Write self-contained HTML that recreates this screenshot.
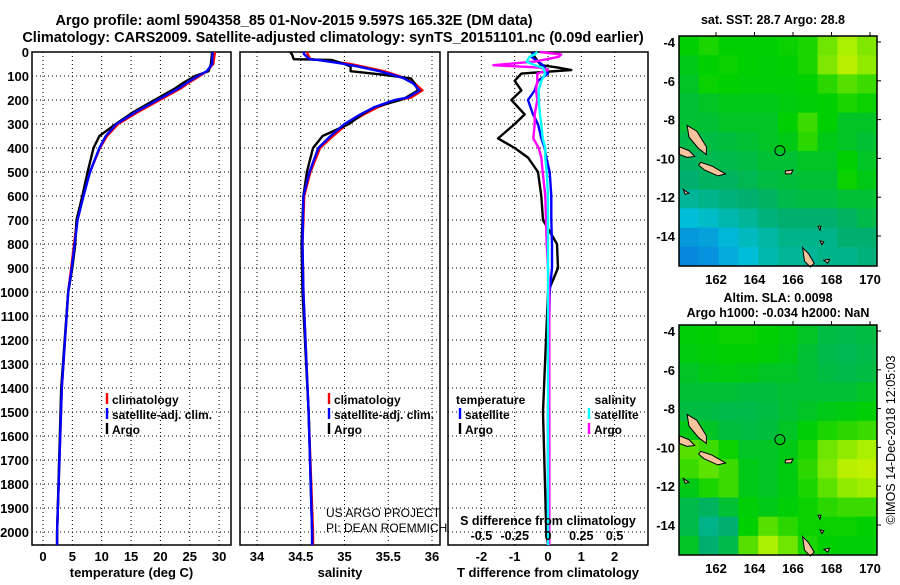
<!DOCTYPE html>
<html><head><meta charset="utf-8"><style>
body{margin:0;background:#fff}
svg text{font-family:"Liberation Sans",sans-serif}
.b{font-weight:bold}
</style></head><body>
<svg id="c" width="900" height="580" xmlns="http://www.w3.org/2000/svg">
<text x="294" y="25" text-anchor="middle" class="b" font-size="14.5">Argo profile: aoml 5904358_85 01-Nov-2015 9.597S 165.32E (DM data)</text>
<text x="333" y="42" text-anchor="middle" class="b" font-size="14.5">Climatology: CARS2009. Satellite-adjusted climatology: synTS_20151101.nc (0.09d earlier)</text>
<g id="g"></g>
</svg>
<script>
// ---- profile data ----
const tDepth=[0,50,80,100,130,150,200,250,300,350,400,500,600,700,800,900,1000,1400,2000,2054];
const tClim=[29.3,29.0,27.9,26.7,24.7,23.6,19.9,16.2,12.8,10.9,9.7,8.0,6.8,5.8,5.3,4.8,4.3,3.2,2.4,2.4];
const tSat=[28.9,28.8,27.9,26.4,24.4,23.2,19.5,15.8,12.5,10.7,9.6,8.0,6.9,5.9,5.4,4.9,4.3,3.2,2.4,2.4];
const tArgo=[28.8,28.6,28.2,25.9,23.8,22.6,19.0,15.4,12.4,9.6,8.6,7.6,6.7,5.7,5.5,5.0,4.3,3.1,2.4,2.4];
const sDepth=[0,10,30,33,50,60,80,95,110,130,160,190,200,230,260,300,350,400,500,600,800,1000,1500,2000,2054];
const sClim=[34.57,34.58,34.61,34.7,35.07,35.2,35.45,35.58,35.7,35.8,35.89,35.76,35.6,35.38,35.22,35.03,34.87,34.72,34.61,34.54,34.52,34.53,34.59,34.64,34.64];
const sSat=[34.53,34.54,34.6,34.7,35.0,35.15,35.4,35.55,35.68,35.78,35.86,35.72,35.57,35.34,35.18,35.0,34.84,34.7,34.6,34.53,34.52,34.53,34.59,34.63,34.63];
const sArgo=[34.38,34.4,34.42,34.85,35.0,35.07,35.07,35.45,35.76,35.8,35.84,35.7,35.64,35.34,35.2,35.05,34.75,34.64,34.57,34.53,34.51,34.52,34.59,34.63,34.63];
const dDepth=[0,10,20,40,55,65,75,90,120,160,200,260,300,360,400,440,500,600,700,800,900,1000,1500,2000,2054];
const dTsat=[-0.45,-0.45,-0.5,-0.3,-0.15,-0.1,-0.05,0.0,-0.3,-0.4,-0.6,-0.45,-0.3,-0.2,-0.1,-0.05,0.05,0.1,0.1,0.12,0.12,0.05,0.0,0.0,0.0];
const dTargo=[-0.5,-0.45,-0.4,-0.3,-0.2,0.3,0.7,-0.8,-1.0,-0.8,-1.1,-0.7,-1.0,-1.5,-1.0,-0.6,-0.3,-0.2,-0.15,0.27,0.3,0.0,-0.15,-0.05,0.0];
const dSsat=[-0.08,-0.1,-0.14,-0.16,-0.1,-0.04,-0.03,-0.02,-0.05,-0.07,-0.07,-0.06,-0.05,-0.04,-0.02,-0.02,-0.01,0,0,0,0,0,0,0,0];
const dSargo=[-0.06,0.1,0.08,-0.1,-0.41,-0.06,0,-0.08,-0.08,-0.09,-0.08,-0.1,-0.1,-0.11,-0.07,-0.05,-0.04,-0.02,-0.015,-0.01,0,0.01,0.01,0.01,0.01];
const tTicks=[0,5,10,15,20,25,30];
const sTicks=[34,34.5,35,35.5,36];
const dTicks=[-2,-1,0,1,2];
const dsTicks=[-0.5,-0.25,0,0.25,0.5];
const dsLabels=["-0.5","-0.25","0","0.25","0.5"];
const depthTicks=[0,100,200,300,400,500,600,700,800,900,1000,1100,1200,1300,1400,1500,1600,1700,1800,1900,2000];
// ---- map data (value 0..1, rows north->south, 10 cols) ----
const sstGrid=[
[.65,.68,.65,.65,.65,.66,.68,.78,.85,.8],
[.62,.65,.66,.65,.64,.65,.68,.8,.88,.82],
[.6,.66,.65,.64,.64,.64,.65,.7,.75,.72],
[.58,.6,.62,.62,.62,.63,.64,.65,.68,.66],
[.58,.58,.6,.6,.6,.65,.72,.65,.6,.6],
[.55,.56,.57,.58,.6,.62,.7,.62,.6,.58],
[.52,.54,.55,.56,.58,.58,.6,.6,.65,.6],
[.5,.52,.52,.54,.56,.57,.58,.58,.66,.62],
[.42,.45,.48,.5,.52,.55,.56,.56,.58,.58],
[.3,.33,.38,.42,.48,.5,.5,.5,.52,.55],
[.2,.22,.28,.35,.4,.45,.45,.45,.5,.5],
[.15,.18,.25,.3,.38,.42,.42,.45,.45,.48]];
const slaGrid=[
[.64,.65,.66,.66,.65,.63,.6,.56,.55,.56],
[.63,.64,.65,.65,.64,.62,.58,.55,.54,.55],
[.6,.62,.63,.62,.6,.6,.58,.56,.55,.56],
[.58,.58,.58,.57,.57,.58,.58,.58,.58,.6],
[.56,.56,.55,.55,.56,.58,.6,.62,.63,.64],
[.62,.6,.57,.56,.57,.6,.64,.68,.7,.72],
[.75,.72,.66,.6,.6,.62,.68,.78,.82,.85],
[.72,.76,.72,.62,.6,.63,.7,.8,.88,.9],
[.62,.68,.72,.62,.6,.63,.68,.76,.82,.84],
[.55,.52,.58,.64,.62,.64,.66,.7,.72,.72],
[.55,.45,.5,.65,.75,.7,.66,.66,.66,.65],
[.6,.5,.55,.75,.85,.78,.68,.65,.64,.64]];
const islands=[
[[160.5,-8.3],[161.0,-8.6],[161.5,-9.4],[161.5,-9.8],[161.1,-9.5],[160.6,-8.9]],
[[160.1,-9.4],[160.6,-9.6],[160.9,-9.9],[160.5,-9.95],[160.1,-9.8]],
[[161.2,-10.2],[161.8,-10.4],[162.5,-10.8],[162.1,-10.9],[161.4,-10.6],[161.1,-10.35]],
[[166.5,-14.6],[166.8,-14.9],[167.1,-15.4],[166.9,-15.6],[166.6,-15.3]],
[[165.6,-10.65],[166.0,-10.6],[165.9,-10.8],[165.6,-10.8]],
[[167.6,-15.25],[167.9,-15.2],[167.8,-15.4]],
[[160.3,-11.6],[160.6,-11.8],[160.4,-11.85]],
[[167.4,-14.25],[167.6,-14.3],[167.5,-14.45]],
[[167.3,-13.5],[167.45,-13.5],[167.4,-13.7]]];
const argoPos=[165.32,-9.597];
const lonTicks=[162,164,166,168,170];
const latTicks=[-4,-6,-8,-10,-12,-14];

const NS='http://www.w3.org/2000/svg';
const G=document.getElementById('g');
function el(tag,a,parent,txt){const e=document.createElementNS(NS,tag);for(const k in a)e.setAttribute(k,a[k]);if(txt!==undefined)e.textContent=txt;(parent||G).appendChild(e);return e;}
const Y=d=>52+d*0.24;
const PB=545;
function panel(name,x0,x1,xf,ticks,labels,xtitle){
  const g=el('g',{});
  
  
  ticks.forEach((t,i)=>{const x=xf(t);
    const l=el('line',{x1:x,x2:x,y1:52,y2:PB,stroke:'#000','stroke-dasharray':'1,3'},g);
    
    
    const tx=el('text',{x:x,y:561,'text-anchor':'middle','font-size':13,class:'b'},g,labels[i]);
    
    
  });
  depthTicks.forEach(d=>{const l=el('line',{x1:x0,x2:x1,y1:Y(d),y2:Y(d),stroke:'#000','stroke-dasharray':'1,3'},g);
    
    });
  const r=el('rect',{x:x0,y:52,width:x1-x0,height:PB-52,fill:'none',stroke:'#000','stroke-width':1.5},g);
  
  
  const t=el('text',{x:(x0+x1)/2,y:577,'text-anchor':'middle','font-size':13,class:'b'},g,xtitle);
  
  
  return g;
}
function line(g,name,xs,ds,xf,color){
  const pts=xs.map((v,i)=>xf(v).toFixed(1)+','+Y(ds[i]).toFixed(1)).join(' ');
  const p=el('polyline',{points:pts,fill:'none',stroke:color,'stroke-width':2.4,'stroke-linejoin':'round'},g);
  
  
}
function legend(g,x,y,color,label){
  const l=el('line',{x1:x,x2:x,y1:y-11,y2:y,stroke:color,'stroke-width':2.4},g);
  
  
  const t=el('text',{x:x+5,y:y,'font-size':12,class:'b'},g,label);
  
  
}
depthTicks.forEach(d=>{const t=el('text',{x:29,y:Y(d)+5,'text-anchor':'end','font-size':13,class:'b'},G,String(d));
  
  });
const xT=v=>43+v*5.87;
const p1=panel('temperature-panel',32,231,xT,tTicks,tTicks.map(String),'temperature (deg C)');
line(p1,'temperature-climatology',tClim,tDepth,xT,'#f00');
line(p1,'temperature-argo',tArgo,tDepth,xT,'#000');
line(p1,'temperature-satellite',tSat,tDepth,xT,'#00f');
legend(p1,107,404,'#f00','climatology');
legend(p1,107,419,'#00f','satellite-adj. clim.');
legend(p1,107,434,'#000','Argo');
const xS=v=>257+(v-34)*87.5;
const p2=panel('salinity-panel',240,440,xS,sTicks,sTicks.map(String),'salinity');
line(p2,'salinity-climatology',sClim,sDepth,xS,'#f00');
line(p2,'salinity-argo',sArgo,sDepth,xS,'#000');
line(p2,'salinity-satellite',sSat,sDepth,xS,'#00f');
legend(p2,329,404,'#f00','climatology');
legend(p2,329,419,'#00f','satellite-adj. clim.');
legend(p2,329,434,'#000','Argo');
[['US ARGO PROJECT',517],['PI: DEAN ROEMMICH',532]].forEach(([s,y])=>{const t=el('text',{x:326,y:y,'font-size':12},p2,s);
  
  });
const xD=v=>548+v*33.3;
const xDS=v=>548+v*133.2;
const p3=panel('difference-panel',448,648,xD,dTicks,dTicks.map(String),'T difference from climatology');
line(p3,'t-diff-argo',dTargo,dDepth,xD,'#000');
line(p3,'t-diff-satellite',dTsat,dDepth,xD,'#00f');
line(p3,'s-diff-argo',dSargo,dDepth,xDS,'#f0f');
line(p3,'s-diff-satellite',dSsat,dDepth,xDS,'#0ff');
let t=el('text',{x:456,y:404,'font-size':12,class:'b'},p3,'temperature');


legend(p3,460,419,'#00f','satellite');
legend(p3,460,434,'#000','Argo');
t=el('text',{x:636,y:404,'font-size':12,class:'b','text-anchor':'end'},p3,'salinity');


legend(p3,589,419,'#0ff','satellite');
legend(p3,589,434,'#f0f','Argo');
t=el('text',{x:548,y:525,'font-size':12.5,class:'b','text-anchor':'middle'},p3,'S difference from climatology');


dsTicks.forEach((v,i)=>{const tt=el('text',{x:xDS(v),y:540,'font-size':12.5,class:'b','text-anchor':'middle'},p3,dsLabels[i]);
  
  });
const stops=[[0,[16,80,230]],[0.3,[0,190,215]],[0.5,[0,175,110]],[0.65,[0,208,0]],[0.85,[170,240,0]],[1,[240,240,0]]];
function cmap(v){for(let i=1;i<stops.length;i++){if(v<=stops[i][0]){const a=stops[i-1],b=stops[i],f=(v-a[0])/(b[0]-a[0]);
  return 'rgb('+a[1].map((c,k)=>Math.round(c+(b[1][k]-c)*f)).join(',')+')';}}return 'rgb(240,240,0)';}
function map(name,top,grid){
  const g=el('g',{});
  
  
  const L=679,R=877,B=top+230;
  const lx=lon=>716+(lon-162)*19.25;
  const ly=lat=>top+6+(-4-lat)*19.4;
  const rows=grid.length,cols=grid[0].length,cw=(R-L)/cols,ch=(B-top)/rows;
  grid.forEach((row,r)=>row.forEach((v,c)=>{const cell=el('rect',{x:L+c*cw,y:top+r*ch,width:cw+0.5,height:ch+0.5,fill:cmap(v)},g);
    
    }));
  islands.forEach(poly=>{const p=el('polygon',{points:poly.map(q=>lx(q[0]).toFixed(1)+','+ly(q[1]).toFixed(1)).join(' '),fill:'#f6c49c',stroke:'#000','stroke-width':1},g);
    
    });
  const c=el('circle',{cx:lx(argoPos[0]),cy:ly(argoPos[1]),r:5,fill:'none',stroke:'#000','stroke-width':1},g);
  
  
  const fr=el('rect',{x:L,y:top,width:R-L,height:B-top,fill:'none',stroke:'#000','stroke-width':1.5},g);
  
  
  lonTicks.forEach(lon=>{const x=lx(lon);
    el('line',{x1:x,x2:x,y1:top-4,y2:top,stroke:'#000'},g);
    const tt=el('text',{x:x,y:B+18,'text-anchor':'middle','font-size':13,class:'b'},g,String(lon));
    
    });
  latTicks.forEach(lat=>{const y=ly(lat);
    el('line',{x1:R,x2:R+4,y1:y,y2:y,stroke:'#000'},g);
    const tt=el('text',{x:675,y:y+5,'text-anchor':'end','font-size':13,class:'b'},g,String(lat));
    
    });
}
map('sst-map',36,sstGrid);
map('sla-map',325,slaGrid);
t=el('text',{x:773,y:24,'text-anchor':'middle','font-size':12.5,class:'b'},G,'sat. SST: 28.7 Argo: 28.8');


t=el('text',{x:778,y:302,'text-anchor':'middle','font-size':12.5,class:'b'},G,'Altim. SLA: 0.0098');


t=el('text',{x:778,y:317,'text-anchor':'middle','font-size':12.5,class:'b'},G,'Argo h1000: -0.034 h2000: NaN');


t=el('text',{x:0,y:0,'text-anchor':'middle','font-size':12.5,transform:'translate(895,440) rotate(-90)'},G,'©IMOS 14-Dec-2018 12:05:03');


</script>
</body></html>
